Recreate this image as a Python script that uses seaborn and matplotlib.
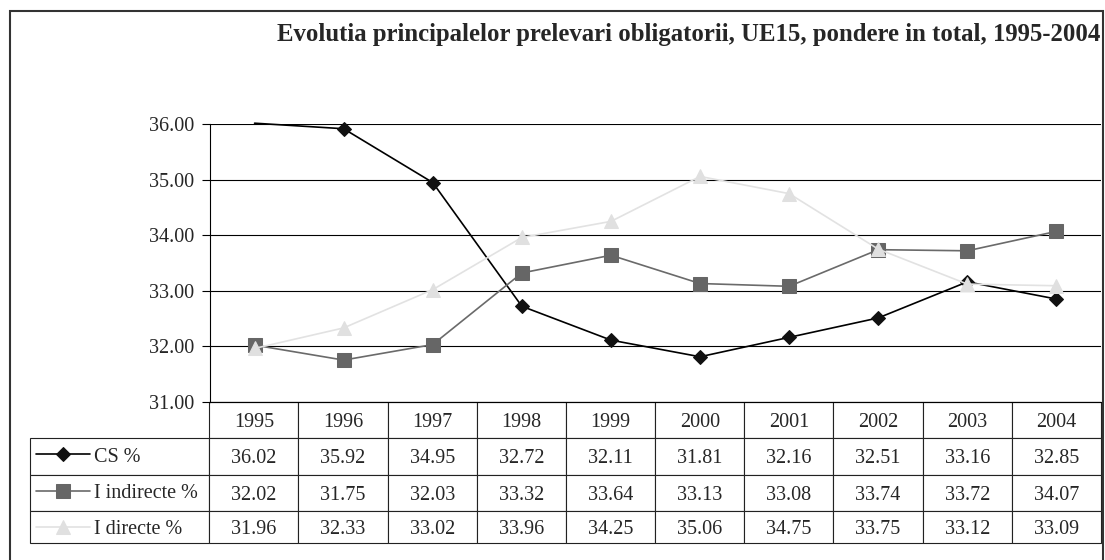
import numpy as np
import pandas as pd
import matplotlib
matplotlib.use('Agg')
import matplotlib.pyplot as plt
import seaborn as sns
from matplotlib.patches import Rectangle

# ------------------------------------------------------------------
# DATE
# ------------------------------------------------------------------
ani = ['1995', '1996', '1997', '1998', '1999', '2000', '2001', '2002', '2003', '2004']
cs = [36.02, 35.92, 34.95, 32.72, 32.11, 31.81, 32.16, 32.51, 33.16, 32.85]
i_indirecte = [32.02, 31.75, 32.03, 33.32, 33.64, 33.13, 33.08, 33.74, 33.72, 34.07]
i_directe = [31.96, 32.33, 33.02, 33.96, 34.25, 35.06, 34.75, 33.75, 33.12, 33.09]
serii = ['CS %', 'I indirecte %', 'I directe %']
titlu = 'Evolutia principalelor prelevari obligatorii, UE15, pondere in total, 1995-2004'
y_min, y_max = 31, 36

df = pd.DataFrame({'an': ani, 'CS %': cs, 'I indirecte %': i_indirecte, 'I directe %': i_directe})
df['poz'] = np.arange(len(ani))

stiluri = {
    'CS %': dict(color='black', marker='D', markersize=7.2, markerfacecolor='#111111', markeredgecolor='#111111'),
    'I indirecte %': dict(color='#6a6a6a', marker='s', markersize=9.5, markerfacecolor='#666666', markeredgecolor='#666666'),
    'I directe %': dict(color='#e2e2e2', marker='^', markersize=10.5, markerfacecolor='#e0e0e0', markeredgecolor='#e0e0e0'),
}

sns.set_style('white')
plt.rcParams['font.family'] = ['Liberation Serif', 'DejaVu Serif']

W, H = 1105, 560
fig = plt.figure(figsize=(W / 100, H / 100), dpi=100)
# zona graficului, in pixeli: x 210-1101, y 124-402
ax = fig.add_axes([210 / W, 1 - 401.7 / H, 891 / W, 277.4 / H])

for nume in serii:
    # Excel ascunde markerii din afara scalei
    vizibile = [i for i, v in enumerate(df[nume]) if y_min <= v <= y_max]
    sns.lineplot(data=df, x='poz', y=nume, ax=ax, label=nume, linewidth=1.2,
                 markevery=vizibile, clip_on=False, zorder=3, **stiluri[nume])

ax.set_xlim(-0.5, len(ani) - 0.5)
ax.set_ylim(y_min, y_max)
ax.set_yticks(np.arange(y_min, y_max + 1))
ax.set_yticklabels([f'{v:.2f}' for v in np.arange(y_min, y_max + 1)])
ax.set_xticks([])
ax.set_xlabel('')
ax.set_ylabel('')
ax.yaxis.grid(True, color='black', linewidth=0.8)
ax.tick_params(axis='y', left=True, length=6, width=0.8, color='black', pad=5.5, labelsize=14.5)
for s in ['top', 'right']:
    ax.spines[s].set_visible(False)
for s in ['left', 'bottom']:
    ax.spines[s].set_color('black')
    ax.spines[s].set_linewidth(0.8)

# tabel de date sub grafic; prima coloana e rezervata legendei
celule = [[''] + [f'{v:.2f}' for v in df[n]] for n in serii]
tabel = ax.table(cellText=celule, colLabels=[''] + ani, cellLoc='center',
                 colWidths=[2.01] + [1.0] * len(ani),
                 bbox=[-180 / 891, -141 / 277.4, 1 + 180 / 891, 141 / 277.4])
tabel.auto_set_font_size(False)
tabel.set_fontsize(14.5)
inaltimi = [36, 37.3, 35.7, 32]
for (r, c), cell in tabel.get_celld().items():
    cell.set_edgecolor('#222222')
    cell.set_linewidth(0.8)
    cell.set_height(inaltimi[r] / 100)
    cell.get_text().set_verticalalignment('center_baseline')
tabel[0, 0].visible_edges = ''
tabel[0, 0].set_facecolor('none')

# legenda in coloana din stanga a tabelului
leg = ax.legend(loc='center left', bbox_to_anchor=(36 / W, 1 - 493 / H),
                bbox_transform=fig.transFigure, frameon=False, fontsize=14.5,
                handlelength=2.7, handletextpad=0.2, labelspacing=0.84,
                borderpad=0, borderaxespad=0)
for ln in leg.get_lines():
    ln.set_markevery([1])

fig.text(1100 / W, 1 - 34 / H, titlu, ha='right', va='center', fontsize=17.8, fontweight='bold')

fig.add_artist(Rectangle((10 / W, -0.05), (1103 - 10) / W, 1 - 11 / H + 0.05,
                         transform=fig.transFigure, fill=False, edgecolor='#333333', linewidth=1.5))

fig.savefig('out.png', dpi=100)
